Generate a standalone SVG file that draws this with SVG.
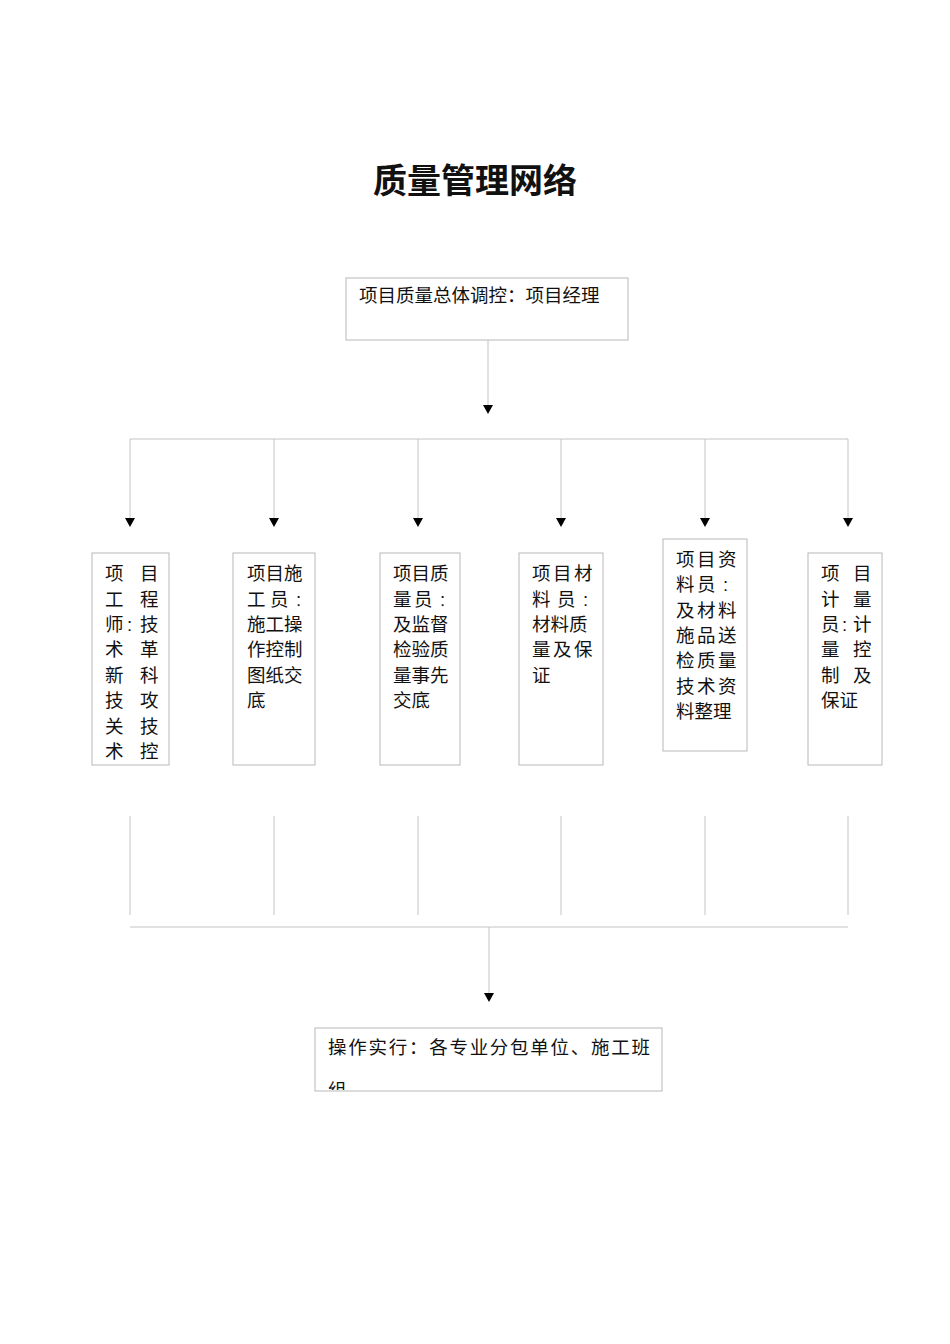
<svg xmlns="http://www.w3.org/2000/svg" width="950" height="1344" viewBox="0 0 950 1344">
<style>
text{font-family:"Liberation Sans","Noto Sans CJK SC",sans-serif;font-size:18.5px;fill:#111}
.t{font-size:34px;font-weight:bold}
.box{fill:#fff;stroke:#b8b8b8;stroke-width:1}
.ln{stroke:#c4c4c4;stroke-width:1;fill:none}
.ar{stroke:#222;stroke-width:1;fill:none;marker-end:url(#a)}
</style>
<defs>
<marker id="a" markerWidth="10" markerHeight="10" refX="5" refY="9" orient="auto" markerUnits="userSpaceOnUse" viewBox="0 0 10 10"><path d="M0,0 L10,0 L5,10 z" fill="#000" transform="rotate(-90 5 5)"/></marker>
<clipPath id="cb"><rect x="315" y="1028" width="348" height="62"/></clipPath>
</defs>
<rect width="950" height="1344" fill="#fff"/>
<text class="t" x="475" y="193" text-anchor="middle">质量管理网络</text>
<g id="connectors">
<line class="ln" x1="488" y1="340" x2="488" y2="405"/>
<path d="M483,405 L493,405 L488,414 z" fill="#000"/>
<line class="ln" x1="130" y1="439" x2="848" y2="439"/>
<g fill="#000">
<path d="M125,518 L135,518 L130,527 z"/><path d="M269,518 L279,518 L274,527 z"/><path d="M413,518 L423,518 L418,527 z"/><path d="M556,518 L566,518 L561,527 z"/><path d="M700,518 L710,518 L705,527 z"/><path d="M843,518 L853,518 L848,527 z"/>
<path d="M484,993 L494,993 L489,1002 z"/>
</g>
<path class="ln" d="M130,439V518M274,439V518M418,439V518M561,439V518M705,439V518M848,439V518"/>
<path class="ln" d="M130,816V915M274,816V915M418,816V915M561,816V915M705,816V915M848,816V915"/>
<line class="ln" x1="130" y1="927" x2="848" y2="927"/>
<line class="ln" x1="489" y1="927" x2="489" y2="993"/>
</g>
<g id="top"><rect class="box" x="346" y="278" width="282" height="62"/><text x="359" y="302">项目质量总体调控：项目经理</text></g>
<g id="n1"><rect class="box" x="92" y="553" width="77" height="212"/>
<text x="105 140" y="580">项目</text><text x="105 140" y="606">工程</text><text x="105 127 140" y="631">师:技</text><text x="105 140" y="656">术革</text><text x="105 140" y="682">新科</text><text x="105 140" y="707">技攻</text><text x="105 140" y="733">关技</text><text x="105 140" y="758">术控</text></g>
<g id="n2"><rect class="box" x="233" y="553" width="82" height="212"/>
<text x="247" y="580">项目施</text><text x="247 270 296" y="606">工员:</text><text x="247" y="631">施工操</text><text x="247" y="656">作控制</text><text x="247" y="682">图纸交</text><text x="247" y="707">底</text></g>
<g id="n3"><rect class="box" x="380" y="553" width="80" height="212"/>
<text x="393" y="580">项目质</text><text x="393 414 440" y="606">量员:</text><text x="393" y="631">及监督</text><text x="393" y="656">检验质</text><text x="393" y="682">量事先</text><text x="393" y="707">交底</text></g>
<g id="n4"><rect class="box" x="519" y="553" width="84" height="212"/>
<text x="532 553 574" y="580">项目材</text><text x="532 557 583" y="606">料员:</text><text x="532" y="631">材料质</text><text x="532 553 574" y="656">量及保</text><text x="532" y="682">证</text></g>
<g id="n5"><rect class="box" x="663" y="539" width="84" height="212"/>
<text x="676 697 718" y="566">项目资</text><text x="676 697 723" y="591">料员:</text><text x="676 697 718" y="617">及材料</text><text x="676 697 718" y="642">施品送</text><text x="676 697 718" y="667">检质量</text><text x="676 697 718" y="693">技术资</text><text x="676" y="718">料整理</text></g>
<g id="n6"><rect class="box" x="808" y="553" width="74" height="212"/>
<text x="821 853" y="580">项目</text><text x="821 853" y="606">计量</text><text x="821 842 853" y="631">员:计</text><text x="821 853" y="656">量控</text><text x="821 853" y="682">制及</text><text x="821" y="707">保证</text></g>
<g id="bottom"><rect class="box" x="315" y="1028" width="347" height="63"/>
<text x="328" y="1054" textLength="322">操作实行：各专业分包单位、施工班</text>
<text x="328" y="1097" clip-path="url(#cb)">组</text></g>
</svg>
